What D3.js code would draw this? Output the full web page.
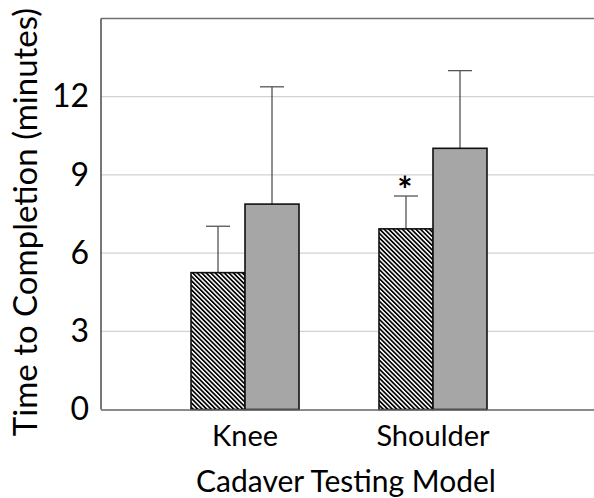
<!DOCTYPE html>
<html>
<head>
<meta charset="utf-8">
<script src="https://cdn.jsdelivr.net/npm/d3@7"></script>
<style>
  html, body { margin: 0; padding: 0; background: #fff; }
  svg { display: block; }
  text { font-family: Lato, "Open Sans", sans-serif; fill: #000; }
</style>
</head>
<body>
<svg id="chart" width="594" height="498"></svg>
<script>
// ---- data ----
const categories = ["Knee", "Shoulder"];
const seriesNames = ["Hatched", "Gray"];
const hatchedValues = [5.25, 6.93];
const grayValues = [7.88, 10.02];
const hatchedErrors = [1.78, 1.26];
const grayErrors = [4.5, 2.98];
const yTicks = [0, 3, 6, 9, 12];
const yMax = 15;
const significance = ["", "*"];

const svg = d3.select("#chart");
const W = 594, H = 498;
const plot = { left: 101, top: 18.5, right: 600, bottom: 409.5 };

const y = d3.scaleLinear().domain([0, yMax]).range([plot.bottom, plot.top]);
const x = d3.scaleBand().domain(categories).range([151, 527])
  .paddingInner(0.4255).paddingOuter(0.2128);
const xs = d3.scaleBand().domain(seriesNames).range([0, x.bandwidth()]);

// hatch pattern
const defs = svg.append("defs");
const pat = defs.append("pattern")
  .attr("id", "hatch")
  .attr("patternUnits", "userSpaceOnUse")
  .attr("width", 3.2).attr("height", 3.2)
  .attr("patternTransform", "rotate(-45)");
pat.append("rect").attr("width", 3.2).attr("height", 3.2).attr("fill", "#fff");
pat.append("rect").attr("width", 1.7).attr("height", 3.2).attr("fill", "#000");

// gridlines
svg.append("g")
  .selectAll("line")
  .data(yTicks.filter(d => d > 0))
  .join("line")
  .attr("x1", plot.left).attr("x2", W)
  .attr("y1", d => y(d)).attr("y2", d => y(d))
  .attr("stroke", "#c8c8c8").attr("stroke-width", 1);

// y axis (labels only)
const yAxis = d3.axisLeft(y).tickValues(yTicks).tickSize(0).tickPadding(12);
const gy = svg.append("g").attr("transform", `translate(${plot.left},0)`).call(yAxis);
gy.select(".domain").remove();
gy.selectAll("text")
  .style("font-family", "Lato, 'Open Sans', sans-serif")
  .style("font-size", "32px").attr("fill", "#000");

// bars
const rows = categories.map((c, i) => ([
  { cat: c, s: seriesNames[0], v: hatchedValues[i], e: hatchedErrors[i], fill: "url(#hatch)", sig: significance[i] },
  { cat: c, s: seriesNames[1], v: grayValues[i], e: grayErrors[i], fill: "#a6a6a6", sig: "" }
])).flat();

const g = svg.append("g");
// error bars (drawn before bars)
g.selectAll("line.err")
  .data(rows).join("line").attr("class", "err")
  .attr("x1", d => x(d.cat) + xs(d.s) + xs.bandwidth() / 2)
  .attr("x2", d => x(d.cat) + xs(d.s) + xs.bandwidth() / 2)
  .attr("y1", d => y(d.v)).attr("y2", d => y(d.v + d.e))
  .attr("stroke", "#333").attr("stroke-width", 1.1);
g.selectAll("line.cap")
  .data(rows).join("line").attr("class", "cap")
  .attr("x1", d => x(d.cat) + xs(d.s) + xs.bandwidth() / 2 - 12)
  .attr("x2", d => x(d.cat) + xs(d.s) + xs.bandwidth() / 2 + 12)
  .attr("y1", d => y(d.v + d.e)).attr("y2", d => y(d.v + d.e))
  .attr("stroke", "#555").attr("stroke-width", 1.3);

g.selectAll("rect.bar")
  .data(rows).join("rect").attr("class", "bar")
  .attr("x", d => x(d.cat) + xs(d.s))
  .attr("width", xs.bandwidth())
  .attr("y", d => y(d.v))
  .attr("height", d => y(0) - y(d.v))
  .attr("fill", d => d.fill)
  .attr("stroke", "#111").attr("stroke-width", 1.6);

g.selectAll("text.sig")
  .data(rows.filter(d => d.sig)).join("text").attr("class", "sig")
  .attr("x", d => x(d.cat) + xs(d.s) + xs.bandwidth() / 2 - 1)
  .attr("y", d => y(d.v + d.e) + 7)
  .attr("text-anchor", "middle")
  .style("font-size", "36px").style("font-weight", "bold")
  .text(d => d.sig);

// plot border (top and left) and baseline
svg.append("line").attr("x1", plot.left).attr("x2", W).attr("y1", plot.top).attr("y2", plot.top)
  .attr("stroke", "#707070").attr("stroke-width", 1.6);
svg.append("line").attr("x1", plot.left).attr("x2", plot.left).attr("y1", plot.top).attr("y2", plot.bottom)
  .attr("stroke", "#555").attr("stroke-width", 1.6);
svg.append("line").attr("x1", plot.left).attr("x2", W).attr("y1", y(0) + 0.5).attr("y2", y(0) + 0.5)
  .attr("stroke", "#666").attr("stroke-width", 1.6);

// x category labels
svg.append("g").selectAll("text")
  .data(categories).join("text")
  .attr("x", d => x(d) + x.bandwidth() / 2)
  .attr("y", 446)
  .attr("text-anchor", "middle")
  .style("font-size", "29px")
  .text(d => d);

// axis titles
svg.append("text")
  .attr("x", 346).attr("y", 492)
  .attr("text-anchor", "middle")
  .style("font-size", "30px")
  .text("Cadaver Testing Model");

svg.append("text")
  .attr("transform", "translate(37,222) rotate(-90)")
  .attr("text-anchor", "middle")
  .style("font-size", "33px")
  .text("Time to Completion (minutes)");
</script>
</body>
</html>
